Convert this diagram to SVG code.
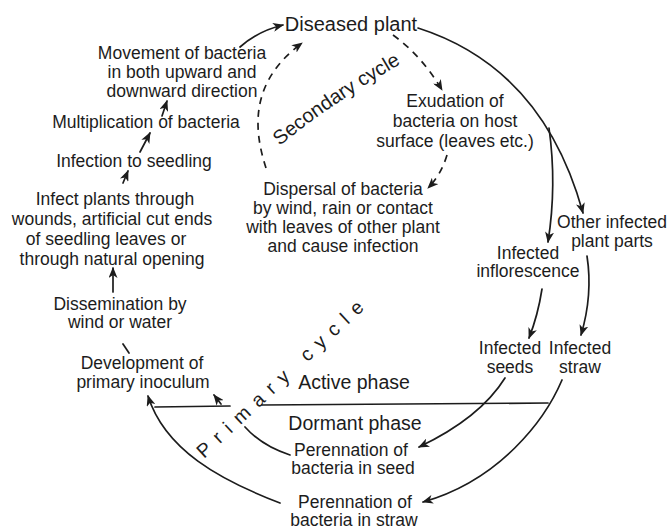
<svg xmlns="http://www.w3.org/2000/svg" xmlns:xlink="http://www.w3.org/1999/xlink" width="670" height="529" viewBox="0 0 670 529">
<defs>
<style>
text{font-family:"Liberation Sans",Arial,Helvetica,sans-serif;fill:#1c1c1c;font-size:17.5px;text-anchor:middle}
.big{font-size:20px}
.ph{font-size:19.5px}
.cyc{font-size:19.5px;text-anchor:start}
.c{fill:none;stroke:#1c1c1c;stroke-width:1.7;stroke-linecap:round}
.a{marker-end:url(#ah)}
.d{stroke-dasharray:7 6;stroke-linecap:butt}
</style>
<marker id="ah" markerWidth="11" markerHeight="9" refX="10" refY="4.5" orient="auto" markerUnits="userSpaceOnUse">
<path d="M0,0 L11,4.5 L0,9 L3,4.5 Z" fill="#1c1c1c"/>
</marker>
<path id="secPath" d="M280,146 Q 329,104 418,54"/>
</defs>
<rect width="670" height="529" fill="#ffffff"/>

<g id="connectors">
<path class="c a" d="M113,292 L113,268"/>
<path class="c a" d="M123,183 L128,171"/>
<path class="c a" d="M140,152 L150,133"/>
<path class="c a" d="M162,116 L167,101"/>
<path class="c a" d="M240,47 Q 258,31 283,25"/>
<path class="c" d="M123,344 L129,353"/>
<path class="c a" d="M418,28 Q 543,68 583,213"/>
<path class="c a" d="M549,128 Q 557,185 548,242"/>
<path class="c a" d="M587,256 Q 593,295 581,335"/>
<path class="c a" d="M542,289 Q 538,315 529,338"/>
<path class="c a" d="M505,378 Q 480,418 419,447"/>
<path class="c a" d="M562,380 C 545,420 500,480 423,502"/>
<path class="c a" d="M280,503 C 220,480 165,450 148,396"/>
<path class="c" d="M290,455 Q 262,446 245,427"/>
<path class="c a" d="M221,404 L214,395"/>
<path class="c" d="M155,407 L230,406"/>
<path class="c" d="M262,405 L548,403"/>
<path class="c d a" d="M393,35 Q 422,56 442,90"/>
<path class="c d a" d="M447,155 Q 441,175 428,188"/>
<path class="c d a" d="M266,168 C 252,125 252,80 302,43"/>
</g>

<g id="diseased-plant"><text class="big" x="351" y="31">Diseased plant</text></g>
<g id="movement"><text x="182" y="59">Movement of bacteria</text><text x="182" y="78">in both upward and</text><text x="182" y="97">downward direction</text></g>
<g id="multiplication"><text x="146" y="128">Multiplication of bacteria</text></g>
<g id="infection-seedling"><text x="134" y="167">Infection to seedling</text></g>
<g id="infect-plants"><text x="115" y="205">Infect plants through</text><text x="112" y="225">wounds, artificial cut ends</text><text x="106" y="245">of seedling leaves or</text><text x="112" y="265">through natural opening</text></g>
<g id="dissemination"><text x="120" y="310">Dissemination by</text><text x="120" y="328">wind or water</text></g>
<g id="development"><text x="142" y="369">Development of</text><text x="143" y="388">primary inoculum</text></g>
<g id="exudation"><text x="455" y="107">Exudation of</text><text x="455" y="127">bacteria on host</text><text x="455" y="147">surface (leaves etc.)</text></g>
<g id="dispersal"><text x="343" y="195">Dispersal of bacteria</text><text x="343" y="214">by wind, rain or contact</text><text x="343" y="233">with leaves of other plant</text><text x="343" y="252">and cause infection</text></g>
<g id="other-parts"><text x="612" y="228">Other infected</text><text x="612" y="247">plant parts</text></g>
<g id="inflorescence"><text x="528" y="259">Infected</text><text x="528" y="277">inflorescence</text></g>
<g id="seeds"><text x="510" y="354">Infected</text><text x="510" y="373">seeds</text></g>
<g id="straw"><text x="580" y="354">Infected</text><text x="580" y="373">straw</text></g>
<g id="active-phase"><text class="ph" x="354" y="389">Active phase</text></g>
<g id="dormant-phase"><text class="ph" x="355" y="430">Dormant phase</text></g>
<g id="perennation-seed"><text x="351" y="456">Perennation of</text><text x="353" y="474">bacteria in seed</text></g>
<g id="perennation-straw"><text x="355" y="508">Perennation of</text><text x="354" y="526">bacteria in straw</text></g>

<g id="cycle-labels">
<text class="cyc" style="font-size:20px"><textPath xlink:href="#secPath" href="#secPath">Secondary cycle</textPath></text>
<text class="cyc" transform="translate(204,459) rotate(-43)" letter-spacing="8.6">Primary cycle</text>
</g>
</svg>
